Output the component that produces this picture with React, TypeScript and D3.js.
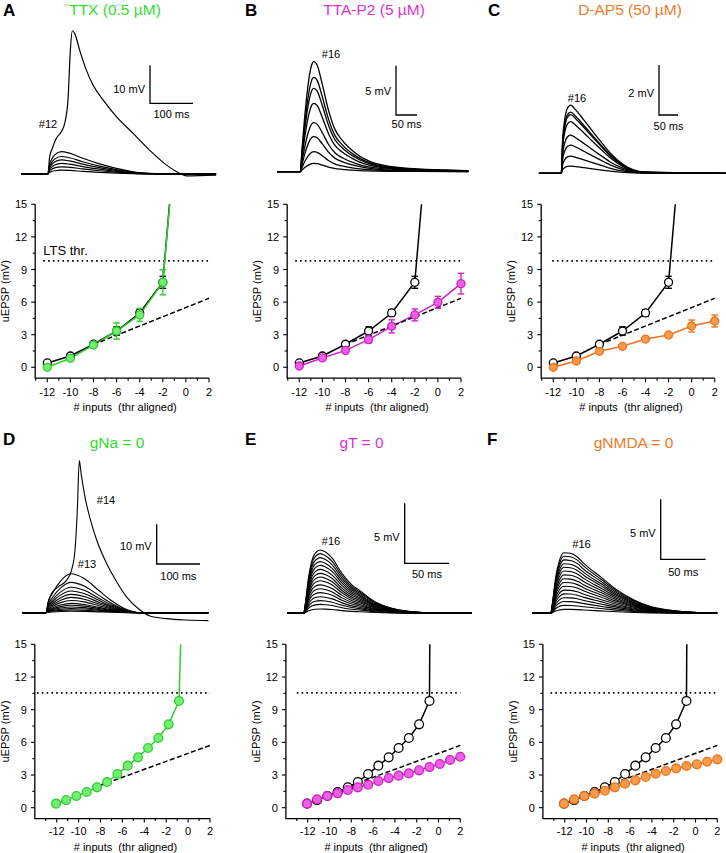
import React from "react";
import * as d3 from "d3";

const FONT = "'Liberation Sans', Arial, Helvetica, sans-serif";

// ---------------- Input-output data: recordings (top row) ----------------
const topInputs = [-12, -10, -8, -6, -4, -2];
const topInputsLong = [-12, -10, -8, -6, -4, -2, 0, 2];
const ctrlTopMean = [0.4, 1.04, 2.12, 3.34, 5.0, 7.82];
const ctrlTopErr = [0.12, 0.12, 0.15, 0.38, 0.3, 0.55];
const ctrlTopEscape: [number, number] = [-1.42, 15];
const ttxMean = [0.0, 0.83, 2.05, 3.34, 4.82, 7.82];
const ttxErr = [0.1, 0.15, 0.22, 0.75, 0.6, 1.15];
const ttxEscape: [number, number] = [-1.4, 15];
const ttaMean = [0.12, 0.86, 1.56, 2.55, 3.77, 4.82, 5.98, 7.7];
const ttaErr = [0.1, 0.12, 0.15, 0.3, 0.6, 0.55, 0.55, 0.95];
const apvMean = [0.0, 0.58, 1.47, 1.93, 2.6, 2.98, 3.8, 4.26];
const apvErr = [0.05, 0.1, 0.12, 0.12, 0.12, 0.15, 0.55, 0.55];
const linTopX = [-8, 2];
const linTopY = [2.1, 6.35];
const ltsTop = 9.8;

// ---------------- Input-output data: model (bottom row) ----------------
const modelInputs = [-12.06, -11.14, -10.2, -9.26, -8.32, -7.4, -6.46, -5.52, -4.57, -3.66, -2.72, -1.78, -0.83, 0.12, 1.06, 2.0];
const ctrlModelMean = [0.37, 0.7, 1.07, 1.44, 1.87, 2.36, 3.09, 3.86, 4.62, 5.48, 6.4, 7.65, 9.8];
const gNaEscape: [number, number] = [-0.68, 15];
const ctrlModelEscape: [number, number] = [-0.8, 15];
const gTMean = [0.37, 0.77, 1.07, 1.32, 1.62, 1.87, 2.11, 2.45, 2.72, 2.94, 3.15, 3.43, 3.73, 4.01, 4.38, 4.68];
const gNmdaMean = [0.37, 0.77, 1.07, 1.29, 1.56, 1.87, 2.2, 2.51, 2.82, 3.12, 3.37, 3.61, 3.83, 3.98, 4.22, 4.44];
const linModelX = [-8.1, 2];
const linModelY = [2.02, 5.72];
const ltsModel = 10.55;

const xTickLabels = [-12, -10, -8, -6, -4, -2, 0, 2];
const yTickLabels = [0, 3, 6, 9, 12, 15];

// ---------------- Voltage traces ----------------
// A (TTX): sub-threshold shape (normalised) + amplitudes (mV), and LTS trace #12 (ms, mV)
const aShapeT = [-62, 0, 2.3, 7.8, 15.5, 31, 50, 81, 120, 159, 198, 236, 275, 391];
const aShapeV = [0, 0, 0.33, 0.63, 0.85, 1, 0.93, 0.7, 0.45, 0.25, 0.1, 0.03, 0, 0];
const aAmps = [1.0, 1.9, 2.8, 3.7, 4.6, 5.9];
const aLtsT = [-62, 0, 3.9, 10, 19.4, 31, 38.8, 46.5, 52, 56.6, 62, 73.6, 89, 104.7, 128, 159, 198, 236, 275, 306, 322, 391];
const aLtsV = [0, 0, 4.56, 6.75, 9.4, 11.1, 13.3, 19.5, 32.6, 37.7, 37, 32.6, 27.4, 23.4, 19.5, 15.1, 10.7, 6.3, 2.4, 0.2, -0.5, -0.3];
// B (TTA-P2)
const bShapeT = [-55, 0, 4, 12, 20, 28, 32, 40, 52, 67, 83, 99, 131, 179, 258, 400];
const bShapeV = [0, 0, 0.2, 0.56, 0.83, 0.98, 1, 0.97, 0.8, 0.56, 0.38, 0.29, 0.17, 0.076, 0.03, 0.01];
const bAmps = [0.84, 2.03, 3.55, 4.97, 6.93, 8.45, 9.56, 11.15];
// C (D-AP5)
const cShapeT = [-59, 0, 3.5, 8.8, 15.8, 24.6, 37.7, 59.6, 86, 112, 130, 165, 217, 433];
const cShapeV = [0, 0, 0.49, 0.78, 0.95, 1, 0.93, 0.78, 0.59, 0.41, 0.29, 0.12, 0.02, 0];
const cAmps = [0.29, 0.69, 1.13, 1.53, 2.07, 2.35, 2.45, 2.73];
// D (gNa = 0)
const dShapeT = [-54, 0, 4.5, 15, 34, 58, 88, 122, 155, 186, 217, 375];
const dShapeV = [0, 0, 0.25, 0.5, 0.82, 1.0, 0.88, 0.57, 0.28, 0.08, 0, 0];
const dLtsT = [-54, 0, 5.4, 13, 28.5, 47.7, 59, 67, 72, 77, 81, 90, 101.5, 117, 140, 163, 186, 217, 240, 278, 325, 375];
const dLtsV = [0, 0, 2.77, 4.87, 6.55, 8.2, 10.75, 15.8, 25, 38.3, 35.1, 29.2, 23.8, 18.3, 12.4, 7.8, 4.0, 0.67, -0.84, -1.5, -1.85, -2.0];
// E (gT = 0)
const eShapeT = [-18.7, 0, 1.9, 5.6, 9.4, 13, 18.7, 24, 32, 43, 54, 62, 80.5, 99, 118, 155, 189];
const eShapeV = [0, 0, 0.16, 0.58, 0.84, 0.95, 1, 0.97, 0.87, 0.63, 0.45, 0.37, 0.18, 0.08, 0.03, 0, 0];
const eAmps = [0.36, 0.74, 1.06, 1.38, 1.72, 2.04, 2.37, 2.71, 3.02, 3.33, 3.66, 3.99, 4.31, 4.64, 4.97, 5.28];
// F (gNMDA = 0)
const fShapeT = [-20.4, 0, 1.85, 5.6, 9.3, 14.8, 22, 29.6, 37, 55.6, 74, 92.6, 111, 130, 148, 185];
const fShapeV = [0, 0, 0.16, 0.6, 0.85, 1.0, 0.99, 0.93, 0.82, 0.6, 0.38, 0.22, 0.11, 0.055, 0.027, 0];
const fAmps = [0.33, 0.66, 0.98, 1.3, 1.62, 1.93, 2.26, 2.57, 2.88, 3.2, 3.52, 3.84, 4.13, 4.45, 4.76, 5.05];

// ---------------- styles ----------------
const GREEN = { stroke: "#2ecf2e", fill: "#72ee72", text: "#33dd33" };
const MAGENTA = { stroke: "#cc22c4", fill: "#ee5fe6", text: "#dd33cc" };
const ORANGE = { stroke: "#ec7420", fill: "#f79a4a", text: "#f07a2a" };

type Series = { x: number[]; y: number[]; err?: number[]; escape?: [number, number] };

function scaled(t: number[], v: number[], amp: number): [number, number][] {
  return t.map((tt, i) => [tt, v[i] * amp]);
}
function zipTV(t: number[], v: number[]): [number, number][] {
  return t.map((tt, i) => [tt, v[i]]);
}

function Traces({ T }: any) {
  const x = d3.scaleLinear().domain([0, 100]).range([T.onset, T.onset + 100 * T.pxms]);
  const y = d3.scaleLinear().domain([0, 10]).range([T.base, T.base - 10 * T.pxmv]);
  const line = d3
    .line<[number, number]>()
    .x((d) => x(d[0]))
    .y((d) => y(d[1]))
    .curve(d3.curveMonotoneX);
  const barV = y(0) - y(T.bar.mv);
  const barH = x(T.bar.ms) - x(0);
  return (
    <g>
      {T.traces.map((tr: [number, number][], i: number) => (
        <path key={i} d={line(tr) || ""} fill="none" stroke="#000" strokeWidth={T.sw} strokeLinejoin="round" />
      ))}
      <path
        d={`M${T.bar.x},${T.bar.y - barV}V${T.bar.y}H${T.bar.x + barH}`}
        fill="none"
        stroke="#000"
        strokeWidth={1.3}
      />
      <text x={T.bar.x - 5} y={T.mvY} textAnchor="end" fontSize={11}>
        {T.bar.mvText}
      </text>
      <text x={T.bar.x + barH / 2} y={T.msY} textAnchor="middle" fontSize={11}>
        {T.bar.msText}
      </text>
      {T.tags.map((tg: any, i: number) => (
        <text key={i} x={tg.x} y={tg.y} textAnchor="middle" fontSize={11}>
          {tg.text}
        </text>
      ))}
    </g>
  );
}

function Plot({ L, ctrl, test, color, linX, linY, lts, ltsText }: any) {
  const x = d3.scaleLinear().domain([-12, 2]).range([L.xA, L.xB]);
  const y = d3.scaleLinear().domain([0, 15]).range([L.y0, L.y15]);
  const left = x(L.xMin);
  const right = x(2);
  const bottom = y(-1);
  const top = y(15);
  const line = d3
    .line<[number, number]>()
    .x((d) => x(d[0]))
    .y((d) => y(d[1]));
  const xt = d3.range(L.tickMin, 2.001, 1);
  const yt = d3.range(0, 15.001, 1.5);
  const r = L.r;

  const seriesLine = (s: Series, stroke: string) => {
    const pts: [number, number][] = s.x.slice(0, s.y.length).map((v, i) => [v, s.y[i]]);
    const lp = s.escape ? [...pts, s.escape] : pts;
    return <path d={line(lp) || ""} fill="none" stroke={stroke} strokeWidth={1.5} />;
  };
  const seriesMarks = (s: Series, stroke: string, fill: string) => (
    <g>
      {s.err &&
        s.err.map((e, i) => {
          const cx = x(s.x[i]);
          return (
            <g key={"e" + i} stroke={stroke} strokeWidth={1.4}>
              <line x1={cx} x2={cx} y1={y(s.y[i] - e)} y2={y(s.y[i] + e)} />
              <line x1={cx - 3.3} x2={cx + 3.3} y1={y(s.y[i] - e)} y2={y(s.y[i] - e)} />
              <line x1={cx - 3.3} x2={cx + 3.3} y1={y(s.y[i] + e)} y2={y(s.y[i] + e)} />
            </g>
          );
        })}
      {s.y.map((v, i) => (
        <circle key={"c" + i} cx={x(s.x[i])} cy={y(v)} r={r} fill={fill} stroke={stroke} strokeWidth={1.3} />
      ))}
    </g>
  );

  return (
    <g>
      <path d={`M${left},${top}V${bottom}H${right}`} fill="none" stroke="#000" strokeWidth={1.3} />
      {yt.map((v) => {
        const major = Math.abs(v % 3) < 1e-6;
        return <line key={"yt" + v} x1={left} x2={left - (major ? 4 : 2.5)} y1={y(v)} y2={y(v)} stroke="#000" strokeWidth={1.1} />;
      })}
      {xt.map((v) => {
        const major = Math.abs(v % 2) < 1e-6;
        return <line key={"xt" + v} x1={x(v)} x2={x(v)} y1={bottom} y2={bottom + (major ? 4 : 2.5)} stroke="#000" strokeWidth={1.1} />;
      })}
      {yTickLabels.map((v) => (
        <text key={"yl" + v} x={left - 8} y={y(v) + 4} textAnchor="end" fontSize={11}>
          {v}
        </text>
      ))}
      {xTickLabels.map((v) => (
        <text key={"xl" + v} x={x(v)} y={L.tickLabY} textAnchor="middle" fontSize={11}>
          {v}
        </text>
      ))}
      <text x={(left + right) / 2 + 3} y={L.axisLabY} textAnchor="middle" fontSize={11}>
        {"# inputs\u00a0\u00a0(thr aligned)"}
      </text>
      <text transform={`translate(${left - 26},${y(7)}) rotate(-90)`} textAnchor="middle" fontSize={11}>
        uEPSP (mV)
      </text>
      <line x1={x(L.dotFrom)} x2={right} y1={y(lts)} y2={y(lts)} stroke="#000" strokeWidth={1.8} strokeDasharray="1.6,3.2" />
      {ltsText && (
        <text x={x(L.dotFrom)} y={y(lts) - 6} fontSize={13}>
          {ltsText}
        </text>
      )}
      {ctrl && seriesLine(ctrl, "#000")}
      {seriesLine(test, color.stroke)}
      <path
        d={line([[linX[0], linY[0]], [linX[1], linY[1]]]) || ""}
        fill="none"
        stroke="#000"
        strokeWidth={1.5}
        strokeDasharray="5,2.5"
      />
      {ctrl && seriesMarks(ctrl, "#000", "#fff")}
      {seriesMarks(test, color.stroke, color.fill)}
    </g>
  );
}

const topLayout = (xA: number, xB: number, dotFrom: number) => ({
  xA, xB, y0: 367.3, y15: 204.3, xMin: -13.05, tickMin: -13, dotFrom, tickLabY: 396, axisLabY: 410.5, r: 4,
});
const botLayout = (xA: number, xB: number, dotFrom: number) => ({
  xA, xB, y0: 807.7, y15: 644.3, xMin: -14, tickMin: -13, dotFrom, tickLabY: 835, axisLabY: 850.5, r: 4.4,
});

export default function App() {
  const ctrlTop: Series = { x: topInputs, y: ctrlTopMean, err: ctrlTopErr, escape: ctrlTopEscape };
  const ctrlModel: Series = { x: modelInputs, y: ctrlModelMean, escape: ctrlModelEscape };

  const traceA = {
    onset: 48, base: 174, pxms: 0.43, pxmv: 3.8, sw: 1.2,
    traces: [...aAmps.map((a) => scaled(aShapeT, aShapeV, a)), zipTV(aLtsT, aLtsV)],
    bar: { x: 150, y: 103.3, mv: 10, ms: 100, mvText: "10 mV", msText: "100 ms" },
    mvY: 93, msY: 118, tags: [{ text: "#12", x: 48, y: 128 }],
  };
  const traceB = {
    onset: 300.3, base: 171.7, pxms: 0.42, pxmv: 9.87, sw: 1.3,
    traces: bAmps.map((a) => scaled(bShapeT, bShapeV, a)),
    bar: { x: 396, y: 115, mv: 5, ms: 50, mvText: "5 mV", msText: "50 ms" },
    mvY: 95, msY: 128, tags: [{ text: "#16", x: 331, y: 58 }],
  };
  const traceC = {
    onset: 561.3, base: 173.3, pxms: 0.38, pxmv: 25, sw: 1.3,
    traces: cAmps.map((a) => scaled(cShapeT, cShapeV, a)),
    bar: { x: 659, y: 115, mv: 2, ms: 50, mvText: "2 mV", msText: "50 ms" },
    mvY: 97, msY: 130, tags: [{ text: "#16", x: 577, y: 101.5 }],
  };
  const traceD = {
    onset: 46, base: 612.7, pxms: 0.433, pxmv: 3.97, sw: 1.1,
    traces: [...ctrlModelMean.map((a) => scaled(dShapeT, dShapeV, a)), zipTV(dLtsT, dLtsV)],
    bar: { x: 156.7, y: 564, mv: 10, ms: 100, mvText: "10 mV", msText: "100 ms" },
    mvY: 550, msY: 580, tags: [{ text: "#14", x: 106, y: 504 }, { text: "#13", x: 87, y: 568 }],
  };
  const traceE = {
    onset: 303.7, base: 613.3, pxms: 0.89, pxmv: 12, sw: 1.1,
    traces: eAmps.map((a) => scaled(eShapeT, eShapeV, a)),
    bar: { x: 404.7, y: 563.3, mv: 5, ms: 50, mvText: "5 mV", msText: "50 ms" },
    mvY: 541, msY: 578, tags: [{ text: "#16", x: 331, y: 545 }],
  };
  const traceF = {
    onset: 550.7, base: 613.3, pxms: 0.9, pxmv: 12, sw: 1.1,
    traces: fAmps.map((a) => scaled(fShapeT, fShapeV, a)),
    bar: { x: 660.7, y: 559.3, mv: 5, ms: 50, mvText: "5 mV", msText: "50 ms" },
    mvY: 537, msY: 576, tags: [{ text: "#16", x: 581.5, y: 548 }],
  };

  const letters = [
    { t: "A", x: 3, y: 16 }, { t: "B", x: 245, y: 16 }, { t: "C", x: 488, y: 16 },
    { t: "D", x: 3, y: 445 }, { t: "E", x: 245, y: 445 }, { t: "F", x: 487, y: 445 },
  ];
  const titles = [
    { t: "TTX (0.5 \u00b5M)", x: 115, y: 15, c: GREEN.text },
    { t: "TTA-P2 (5 \u00b5M)", x: 374, y: 15, c: MAGENTA.text },
    { t: "D-AP5 (50 \u00b5M)", x: 630, y: 15, c: ORANGE.text },
    { t: "gNa = 0", x: 117, y: 448, c: GREEN.text },
    { t: "gT = 0", x: 361.5, y: 448, c: MAGENTA.text },
    { t: "gNMDA = 0", x: 633.5, y: 448, c: ORANGE.text },
  ];

  return (
    <svg
      width={726}
      height={853}
      viewBox="0 0 726 853"
      style={{ position: "absolute", left: 0, top: 0, background: "#fff" }}
      fontFamily={FONT}
    >
      <rect width={726} height={853} fill="#fff" />
      {letters.map((l) => (
        <text key={l.t} x={l.x} y={l.y} fontSize={17} fontWeight="bold">
          {l.t}
        </text>
      ))}
      {titles.map((t) => (
        <text key={t.t} x={t.x} y={t.y} fontSize={15.5} textAnchor="middle" fill={t.c}>
          {t.t}
        </text>
      ))}
      <Traces T={traceA} />
      <Traces T={traceB} />
      <Traces T={traceC} />
      <Traces T={traceD} />
      <Traces T={traceE} />
      <Traces T={traceF} />

      <Plot
        L={topLayout(47.3, 209, -12.35)}
        ctrl={ctrlTop}
        test={{ x: topInputs, y: ttxMean, err: ttxErr, escape: ttxEscape }}
        color={GREEN}
        linX={linTopX}
        linY={linTopY}
        lts={ltsTop}
        ltsText="LTS thr."
      />
      <Plot
        L={topLayout(299.3, 461, -12.35)}
        ctrl={ctrlTop}
        test={{ x: topInputsLong, y: ttaMean, err: ttaErr }}
        color={MAGENTA}
        linX={linTopX}
        linY={linTopY}
        lts={ltsTop}
      />
      <Plot
        L={topLayout(553.3, 714.7, -12.1)}
        ctrl={ctrlTop}
        test={{ x: topInputsLong, y: apvMean, err: apvErr }}
        color={ORANGE}
        linX={linTopX}
        linY={linTopY}
        lts={ltsTop}
      />
      <Plot
        L={botLayout(56.7, 210, -13.8)}
        ctrl={null}
        test={{ x: modelInputs, y: ctrlModelMean, escape: gNaEscape }}
        color={GREEN}
        linX={linModelX}
        linY={linModelY}
        lts={ltsModel}
      />
      <Plot
        L={botLayout(307.7, 460.3, -13)}
        ctrl={ctrlModel}
        test={{ x: modelInputs, y: gTMean }}
        color={MAGENTA}
        linX={linModelX}
        linY={linModelY}
        lts={ltsModel}
      />
      <Plot
        L={botLayout(564.7, 717.3, -13.3)}
        ctrl={ctrlModel}
        test={{ x: modelInputs, y: gNmdaMean }}
        color={ORANGE}
        linX={linModelX}
        linY={linModelY}
        lts={ltsModel}
      />
    </svg>
  );
}
